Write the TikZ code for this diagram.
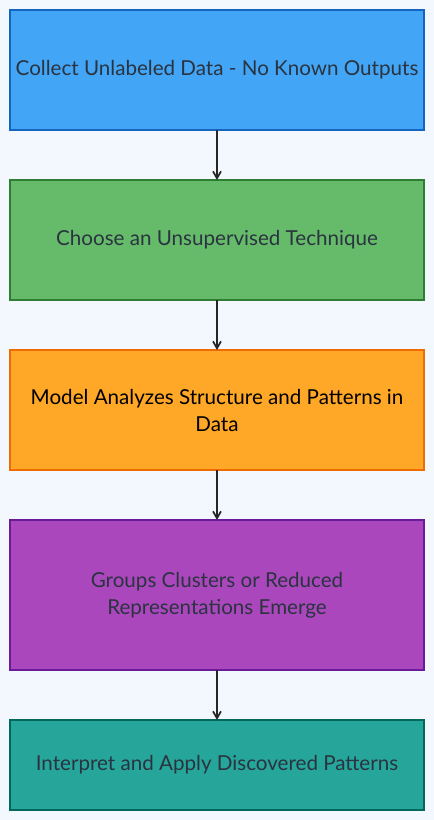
\documentclass[tikz,border=0pt]{standalone}
\usepackage{fontspec}
\setmainfont{Lato}
\usetikzlibrary{positioning,arrows.meta}
\definecolor{pagebg}{HTML}{F3F8FE}
\definecolor{txtdark}{HTML}{2A3340}
\definecolor{bluefill}{HTML}{42A5F5}
\definecolor{blueline}{HTML}{1565C0}
\definecolor{greenfill}{HTML}{66BB6A}
\definecolor{greenline}{HTML}{2E7D32}
\definecolor{orangefill}{HTML}{FFA726}
\definecolor{orangeline}{HTML}{EF6C00}
\definecolor{purplefill}{HTML}{AB47BC}
\definecolor{purpleline}{HTML}{6A1B9A}
\definecolor{tealfill}{HTML}{26A69A}
\definecolor{tealline}{HTML}{00695C}
\tikzset{
  stagebox/.style={draw, line width=1.5pt, minimum width=414pt, align=center,
    inner sep=0pt, outer sep=0pt, font=\fontsize{20.6}{27}\selectfont, text=txtdark},
  flowarrow/.style={-{Straight Barb[length=7pt,width=8pt]}, line width=1.7pt, draw=black!85},
}
\begin{document}
\begin{tikzpicture}[x=1pt,y=1pt,node distance=50pt]
	\fill [pagebg] (0,0) rectangle (434,-820);
	\useasboundingbox (0,0) rectangle (434,-820);
	\node [stagebox, fill=bluefill, draw=blueline, minimum height=120pt, anchor=north] (collect) at (217,-10) {Collect Unlabeled Data - No Known Outputs};
	\node [stagebox, fill=greenfill, draw=greenline, minimum height=120pt, below=of collect] (choose) {Choose an Unsupervised Technique};
	\node [stagebox, fill=orangefill, draw=orangeline, minimum height=120pt, text=black, below=of choose] (analyze) {Model Analyzes Structure and Patterns in\\Data};
	\node [stagebox, fill=purplefill, draw=purpleline, minimum height=150pt, below=of analyze] (emerge) {Groups Clusters or Reduced\\Representations Emerge};
	\node [stagebox, fill=tealfill, draw=tealline, minimum height=90pt, below=of emerge] (interpret) {Interpret and Apply Discovered Patterns};
	% connectors
	\draw [flowarrow] (collect) -- (choose);
	\draw [flowarrow] (choose) -- (analyze);
	\draw [flowarrow] (analyze) -- (emerge);
	\draw [flowarrow] (emerge) -- (interpret);
\end{tikzpicture}
\end{document}
